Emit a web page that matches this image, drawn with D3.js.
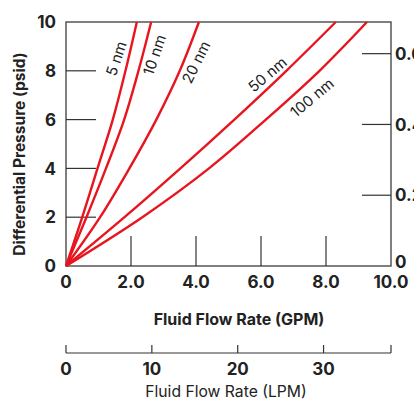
<!DOCTYPE html>
<html>
<head>
<meta charset="utf-8">
<script src="https://cdn.jsdelivr.net/npm/d3@7"></script>
<style>
  body { margin: 0; background: #fff; }
  svg { font-family: Inter, Lato, sans-serif; }
</style>
</head>
<body>
<div id="chart"></div>
<script>
// flow (GPM) at pressure steps (psid) for each pore size
const psidSteps = [0, 2, 4, 6, 8, 10]
const gpm5 = [0, 0.5, 0.97, 1.44, 1.83, 2.18]
const gpm10 = [0, 0.63, 1.23, 1.79, 2.23, 2.62]
const gpm20 = [0, 1.05, 1.95, 2.78, 3.5, 4.09]
const gpm50 = [0, 1.8, 3.52, 5.18, 6.78, 8.3]
const gpm100 = [0, 2.35, 4.4, 6.15, 7.8, 9.26]
const seriesNames = ["5 nm", "10 nm", "20 nm", "50 nm", "100 nm"]

const gpmTicks = [0, 2, 4, 6, 8, 10]
const psidTicks = [0, 2, 4, 6, 8, 10]
const barTicks = [0, 0.2, 0.4, 0.6]
const lpmTicks = [0, 10, 20, 30]

const W = 414, H = 404
const m = { left: 66, right: 391, top: 22, bottom: 266 }

const svg = d3.select("#chart").append("svg")
    .attr("width", W)
    .attr("height", H)

const x = d3.scaleLinear().domain([0, 10]).range([m.left, m.right])
const y = d3.scaleLinear().domain([0, 10]).range([m.bottom, m.top])
const yBar = d3.scaleLinear().domain([0, 10 * 0.0689476]).range([m.bottom, m.top])
const xL = d3.scaleLinear().domain([0, 10 * 3.78541]).range([m.left, m.right])

const axisCol = "#333"

// frame
svg.append("rect")
    .attr("x", m.left).attr("y", m.top)
    .attr("width", m.right - m.left).attr("height", m.bottom - m.top)
    .attr("fill", "none").attr("stroke", "#555").attr("stroke-width", 1.5)

// inner ticks
svg.selectAll("line.yt").data(psidTicks.filter(d => d > 0 && d < 10))
    .enter().append("line")
    .attr("x1", m.left).attr("x2", m.left + 30)
    .attr("y1", d => y(d)).attr("y2", d => y(d))
    .attr("stroke", axisCol).attr("stroke-width", 1.2)

svg.selectAll("line.xt").data(gpmTicks.filter(d => d > 0 && d < 10))
    .enter().append("line")
    .attr("x1", d => x(d)).attr("x2", d => x(d))
    .attr("y1", m.bottom).attr("y2", m.bottom - 30)
    .attr("stroke", axisCol).attr("stroke-width", 1.2)

svg.selectAll("line.bt").data(barTicks.filter(d => d > 0))
    .enter().append("line")
    .attr("x1", m.right - 29).attr("x2", m.right)
    .attr("y1", d => yBar(d)).attr("y2", d => yBar(d))
    .attr("stroke", axisCol).attr("stroke-width", 1.2)

// tick labels
const tick = { size: 17, weight: 700, fill: "#222" }
svg.selectAll("text.yl").data(psidTicks)
    .enter().append("text")
    .attr("x", m.left - 10).attr("y", d => y(d))
    .attr("dy", "0.36em")
    .attr("text-anchor", "end")
    .attr("font-size", tick.size).attr("font-weight", tick.weight)
    .attr("fill", tick.fill)
    .text(d => d)

svg.selectAll("text.xl").data(gpmTicks)
    .enter().append("text")
    .attr("x", d => x(d)).attr("y", m.bottom + 22)
    .attr("text-anchor", "middle")
    .attr("font-size", tick.size).attr("font-weight", tick.weight)
    .attr("fill", tick.fill)
    .text(d => d === 0 ? "0" : d.toFixed(1))

svg.selectAll("text.bl").data(barTicks)
    .enter().append("text")
    .attr("x", m.right + 4).attr("y", d => yBar(d))
    .attr("dy", d => d === 0 ? "0.1em" : "0.36em")
    .attr("font-size", tick.size).attr("font-weight", tick.weight)
    .attr("fill", tick.fill)
    .text(d => d === 0 ? "0" : d.toFixed(1))

// axis titles
svg.append("text")
    .attr("transform", `translate(25,${(m.top + m.bottom) / 2 + 10}) rotate(-90)`)
    .attr("text-anchor", "middle")
    .attr("font-size", 15.5).attr("font-weight", 700).attr("fill", "#222")
    .text("Differential Pressure (psid)")

svg.append("text")
    .attr("x", 239).attr("y", 325)
    .attr("text-anchor", "middle")
    .attr("font-size", 16).attr("font-weight", 700).attr("fill", "#222")
    .text("Fluid Flow Rate (GPM)")

// LPM scale
const lpmY = 353
svg.append("line")
    .attr("x1", m.left).attr("x2", m.right)
    .attr("y1", lpmY).attr("y2", lpmY)
    .attr("stroke", axisCol).attr("stroke-width", 1.2)
svg.selectAll("line.lt").data(lpmTicks.concat([xL.domain()[1]]))
    .enter().append("line")
    .attr("x1", d => xL(d)).attr("x2", d => xL(d))
    .attr("y1", lpmY).attr("y2", lpmY - 8)
    .attr("stroke", axisCol).attr("stroke-width", 1.2)
svg.selectAll("text.ll").data(lpmTicks)
    .enter().append("text")
    .attr("x", d => xL(d)).attr("y", lpmY + 22)
    .attr("text-anchor", "middle")
    .attr("font-size", tick.size).attr("font-weight", tick.weight)
    .attr("fill", tick.fill)
    .text(d => d)
svg.append("text")
    .attr("x", 226).attr("y", 397)
    .attr("text-anchor", "middle")
    .attr("font-size", 15.7).attr("fill", "#222")
    .text("Fluid Flow Rate (LPM)")

// curves
const allSeries = [gpm5, gpm10, gpm20, gpm50, gpm100]
const line = d3.line()
    .x(d => x(d[0]))
    .y(d => y(d[1]))
    .curve(d3.curveCatmullRom.alpha(0.5))

allSeries.forEach(s => {
    svg.append("path")
        .datum(s.map((g, i) => [g, psidSteps[i]]))
        .attr("d", line)
        .attr("fill", "none")
        .attr("stroke", "#e8141e")
        .attr("stroke-width", 2.4)
})

// curve labels: psid where the label sits, horizontal shift px, rotation
const labelPlace = [[8.5, -12, -72], [8.65, 12, -71], [8.35, 13, -64], [7.85, -15, -40], [6.9, 22, -40]]
allSeries.forEach((s, i) => {
    const [p, dx, rot] = labelPlace[i]
    const g = d3.scaleLinear().domain(psidSteps).range(s)(p)
    svg.append("text")
        .attr("transform", `translate(${x(g) + dx},${y(p)}) rotate(${rot})`)
        .attr("text-anchor", "middle")
        .attr("dy", "0.35em")
        .attr("font-size", 15).attr("fill", "#222")
        .text(seriesNames[i])
})
</script>
</body>
</html>
